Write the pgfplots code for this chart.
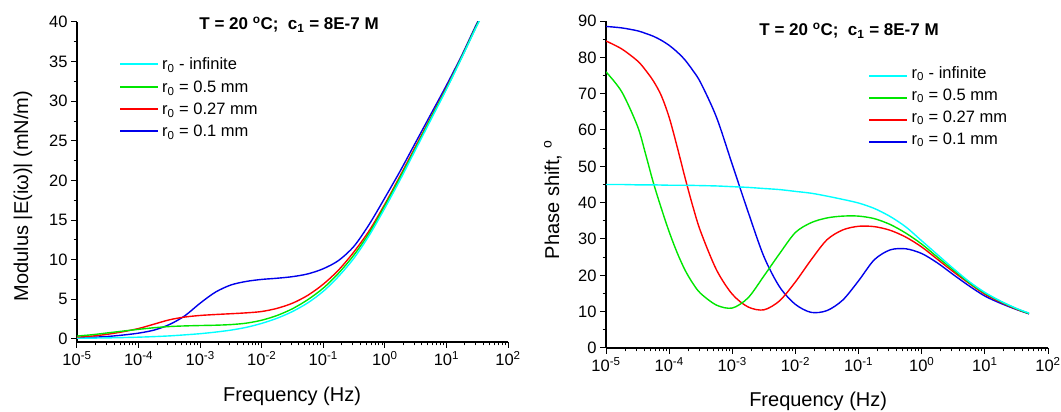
\documentclass[border=0pt]{standalone}
\usepackage{fontspec}
\setmainfont{Liberation Sans}
\usepackage{pgfplots}
\pgfplotsset{compat=1.18}
\usepackage{pgfplotstable}

\definecolor{ccyan}{RGB}{0,255,255}
\definecolor{cgreen}{RGB}{0,230,0}
\definecolor{cred}{RGB}{255,0,0}
\definecolor{cblue}{RGB}{0,0,235}

\pgfplotsset{legend image code/.code={\draw[#1] (0pt,0pt) -- (38pt,0pt);}}

% modulus |E| (mN/m)
\pgfplotstableread{
f cyan green red blue
1e-5 0.07 0.35 0.20 0.15
1.778e-5 0.09 0.52 0.35 0.20
3.162e-5 0.12 0.75 0.58 0.30
5.623e-5 0.16 0.98 0.90 0.48
1e-4 0.21 1.20 1.30 0.72
1.778e-4 0.28 1.40 1.85 1.10
3.162e-4 0.37 1.55 2.40 1.80
5.623e-4 0.50 1.63 2.75 2.90
1e-3 0.65 1.68 2.95 4.50
1.778e-3 0.85 1.72 3.07 5.90
3.162e-3 1.10 1.80 3.17 6.80
5.623e-3 1.45 1.98 3.28 7.25
1e-2 1.95 2.35 3.45 7.50
1.778e-2 2.60 2.95 3.85 7.65
3.162e-2 3.45 3.80 4.50 7.85
5.623e-2 4.55 4.95 5.50 8.20
0.1 6.00 6.40 6.90 8.85
0.1778 7.90 8.30 8.70 9.90
0.3162 10.20 10.60 11.00 11.70
0.5623 13.10 13.40 13.70 14.50
1 16.50 16.80 17.00 17.80
1.778 20.10 20.40 20.60 21.20
3.162 23.90 24.10 24.30 24.80
5.623 27.70 27.90 28.00 28.40
10 31.50 31.60 31.70 32.00
17.78 35.50 35.60 35.60 35.80
31.62 39.60 39.70 39.70 39.90
50 42.60 42.60 42.60 42.70
}\modtab

% phase shift (deg)
\pgfplotstableread{
f cyan green red blue
1e-5 45.0 76.0 84.5 88.5
1.778e-5 45.0 70.5 82.3 88.1
3.162e-5 44.9 61.0 79.0 87.3
4.217e-5 44.9 53.5 76.5 86.6
5.623e-5 44.9 45.5 73.5 85.8
7.499e-5 44.85 38.5 69.5 84.7
1e-4 44.8 32.0 63.5 83.3
1.334e-4 44.8 26.3 55.5 81.5
1.778e-4 44.8 21.5 47.0 79.3
2.371e-4 44.75 17.8 39.0 76.4
3.162e-4 44.7 15.0 32.0 73.0
5.623e-4 44.6 11.8 21.5 63.5
1e-3 44.4 11.0 14.8 50.5
1.778e-3 44.2 13.8 11.3 37.5
3.162e-3 43.9 19.8 10.5 25.2
5.623e-3 43.6 26.0 13.0 16.8
1e-2 43.1 31.8 18.2 12.0
1.778e-2 42.6 34.5 24.3 9.8
3.162e-2 41.8 35.8 29.8 10.3
5.623e-2 40.9 36.3 32.5 13.2
0.1 39.9 36.3 33.5 18.5
0.1778 38.4 35.6 33.4 24.3
0.3162 36.2 34.0 32.4 27.0
0.5623 33.3 31.6 30.5 27.3
1 29.5 28.6 27.8 26.0
1.778 25.7 25.0 24.4 23.4
3.162 21.9 21.5 21.0 20.2
5.623 18.3 18.0 17.8 17.1
10 15.3 15.1 14.8 14.3
17.78 12.9 12.8 12.6 12.3
31.62 10.9 10.8 10.7 10.6
50 9.6 9.5 9.5 9.4
}\phasetab

\newcommand{\tlab}{\fontsize{16.5}{18}\selectfont}
\newcommand{\alab}{\fontsize{20}{22}\selectfont}
\newcommand{\ttl}{T = 20 \textsuperscript{o}C;\ \ c\textsubscript{1} = 8E-7 M}
\newcommand{\modlab}{Modulus |E(iω)| (mN/m)}

\begin{document}
\begin{tikzpicture}
\useasboundingbox (0,0) rectangle (1061pt,412pt);

% left panel: modulus
\begin{axis}[
  xmode=log,
  scale only axis,
  at={(77pt,70pt)}, anchor=south west,
  width=431pt, height=320pt,
  xmin=1e-5, xmax=1e2,
  ymin=-0.4, ymax=40, ytick={0,5,...,40}, minor y tick num=1,
  axis x line*=bottom, axis y line*=left,
  axis line style={line width=1.2pt,-},
  tick align=outside,
  major tick length=6pt, minor tick length=3.5pt,
  every tick/.style={black,line width=1pt},
  xtick={1e-5,1e-4,1e-3,1e-2,1e-1,1,10,100},
  xticklabels={10\textsuperscript{-5},10\textsuperscript{-4},10\textsuperscript{-3},10\textsuperscript{-2},10\textsuperscript{-1},10\textsuperscript{0},10\textsuperscript{1},10\textsuperscript{2}},
  minor xtick={2e-5,3e-5,4e-5,5e-5,6e-5,7e-5,8e-5,9e-5,2e-4,3e-4,4e-4,5e-4,6e-4,7e-4,8e-4,9e-4,2e-3,3e-3,4e-3,5e-3,6e-3,7e-3,8e-3,9e-3,2e-2,3e-2,4e-2,5e-2,6e-2,7e-2,8e-2,9e-2,0.2,0.3,0.4,0.5,0.6,0.7,0.8,0.9,2,3,4,5,6,7,8,9,20,30,40,50,60,70,80,90},
  tick label style={font=\tlab},
  yticklabel style={/pgf/number format/assume math mode=true},
  xlabel={Frequency (Hz)}, ylabel={\modlab},
  label style={font=\alab},
  xlabel style={at={(axis description cs:0.499,-0.169)},anchor=center},
  ylabel style={at={(axis description cs:-0.125,0.456)},anchor=center},
  title={\ttl},
  title style={font=\fontsize{17}{19}\selectfont\bfseries,anchor=center,at={(axis description cs:0.492,0.972)}},
  every axis plot/.append style={line width=1.4pt,smooth,no markers}]
\addplot[cblue] table[x=f,y=blue] {\modtab};
\addplot[cred] table[x=f,y=red] {\modtab};
\addplot[cgreen] table[x=f,y=green] {\modtab};
\addplot[ccyan] table[x=f,y=cyan] {\modtab};
\end{axis}
% key of the left panel
\begin{scope}[line width=1.4pt]
  \draw[ccyan]  (120pt,348pt) -- (158pt,348pt);
  \draw[cgreen] (120pt,325pt) -- (158pt,325pt);
  \draw[cred]   (120pt,303pt) -- (158pt,303pt);
  \draw[cblue]  (120pt,281pt) -- (158pt,281pt);
\end{scope}
\begin{scope}[every node/.style={anchor=base west,inner sep=0pt,font=\tlab}]
  \node at (162pt,342.5pt) {r\textsubscript{0} - infinite};
  \node at (162pt,319.5pt) {r\textsubscript{0} = 0.5 mm};
  \node at (162pt,297.5pt) {r\textsubscript{0} = 0.27 mm};
  \node at (162pt,275.5pt) {r\textsubscript{0} = 0.1 mm};
\end{scope}

% right panel: phase shift
\begin{axis}[
  xmode=log,
  scale only axis,
  at={(606pt,64pt)}, anchor=south west,
  width=442pt, height=327pt,
  xmin=1e-5, xmax=1e2,
  ymin=0, ymax=90, ytick={0,10,...,90}, minor y tick num=1,
  axis x line*=bottom, axis y line*=left,
  axis line style={line width=1.2pt,-},
  tick align=outside,
  major tick length=6pt, minor tick length=3.5pt,
  every tick/.style={black,line width=1pt},
  xtick={1e-5,1e-4,1e-3,1e-2,1e-1,1,10,100},
  xticklabels={10\textsuperscript{-5},10\textsuperscript{-4},10\textsuperscript{-3},10\textsuperscript{-2},10\textsuperscript{-1},10\textsuperscript{0},10\textsuperscript{1},10\textsuperscript{2}},
  minor xtick={2e-5,3e-5,4e-5,5e-5,6e-5,7e-5,8e-5,9e-5,2e-4,3e-4,4e-4,5e-4,6e-4,7e-4,8e-4,9e-4,2e-3,3e-3,4e-3,5e-3,6e-3,7e-3,8e-3,9e-3,2e-2,3e-2,4e-2,5e-2,6e-2,7e-2,8e-2,9e-2,0.2,0.3,0.4,0.5,0.6,0.7,0.8,0.9,2,3,4,5,6,7,8,9,20,30,40,50,60,70,80,90},
  tick label style={font=\tlab},
  yticklabel style={/pgf/number format/assume math mode=true},
  xlabel={Frequency (Hz)}, ylabel={Phase shift, \textsuperscript{o}},
  label style={font=\alab},
  xlabel style={at={(axis description cs:0.48,-0.162)},anchor=center},
  ylabel style={at={(axis description cs:-0.12,0.453)},anchor=center},
  title={\ttl},
  title style={font=\fontsize{17}{19}\selectfont\bfseries,anchor=center,at={(axis description cs:0.55,0.952)}},
  legend style={draw=none,fill=none,inner sep=0pt,column sep=4pt,
    font=\tlab,anchor=north west,at={(0.593,0.866)},
    nodes={inner sep=0pt,text height=13pt,text depth=9pt}},
  legend cell align=left,
  reverse legend,
  every axis plot/.append style={line width=1.4pt,smooth,no markers}]
\addplot[cblue] table[x=f,y=blue] {\phasetab};
\addlegendentry{r\textsubscript{0} = 0.1 mm}
\addplot[cred] table[x=f,y=red] {\phasetab};
\addlegendentry{r\textsubscript{0} = 0.27 mm}
\addplot[cgreen] table[x=f,y=green] {\phasetab};
\addlegendentry{r\textsubscript{0} = 0.5 mm}
\addplot[ccyan] table[x=f,y=cyan] {\phasetab};
\addlegendentry{r\textsubscript{0} - infinite}
\end{axis}
\end{tikzpicture}
\end{document}
